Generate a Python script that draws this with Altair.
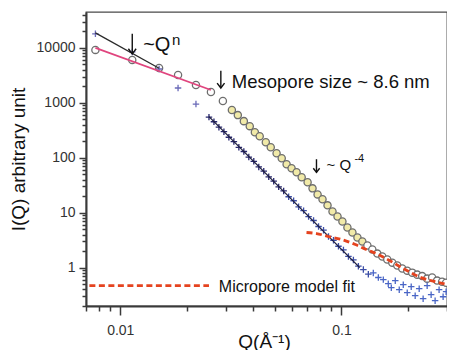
import altair as alt
import pandas as pd

# ---- circle series (open / yellow circles) ----
circ_q = [0.00772, 0.01133, 0.01498, 0.01825, 0.02199, 0.0257, 0.0291,
          0.03196, 0.0340, 0.0362, 0.0385, 0.0406, 0.0427, 0.0455, 0.0479, 0.0509,
          0.0537, 0.0565, 0.0595, 0.0627, 0.0661, 0.0703, 0.0740, 0.0780, 0.0821,
          0.0865, 0.0911, 0.0960, 0.1010, 0.1064, 0.1121, 0.1181, 0.1243,
          0.1310, 0.1379, 0.1453, 0.1530, 0.1611, 0.1698, 0.1788, 0.1883, 0.1983,
          0.2089, 0.2200, 0.2317, 0.2440, 0.2570, 0.2706, 0.2851, 0.2972]
circ_i = [9190, 6040, 4310, 3210, 2110, 1571, 1077,
          738, 597, 464, 376, 292, 247, 192, 155, 121,
          98, 76, 64.3, 54.3, 44.0, 35.7, 27.7, 21.5, 17.5,
          13.6, 10.5, 8.54, 6.92, 5.38, 4.36, 3.53, 2.98,
          2.52, 2.13, 1.80, 1.59, 1.40, 1.23, 1.09, 0.96, 0.88,
          0.81, 0.745, 0.70, 0.63, 0.66, 0.58, 0.555, 0.53]
circ_grp = ["open"] * 7 + ["yellow"] * 26 + ["open"] * 17

# ---- cross series ----
cross_q = [0.00772, 0.01133, 0.01498, 0.01825, 0.02199,
           0.02518, 0.02652, 0.02793, 0.02942, 0.03098, 0.03263, 0.03437, 0.03620,
           0.03812, 0.04015, 0.04229, 0.04454, 0.04691, 0.04940, 0.05203, 0.05480,
           0.05772, 0.06079, 0.06402, 0.06743, 0.07102, 0.07480, 0.07878, 0.08297,
           0.08738, 0.09203, 0.09693, 0.10209, 0.10752, 0.11324, 0.11926, 0.12561,
           0.13229,
           0.1393, 0.1468, 0.1546, 0.1628, 0.1680, 0.1751, 0.1825, 0.1903, 0.1983,
           0.2067, 0.2154, 0.2246, 0.2340, 0.2440, 0.2543, 0.2651, 0.2763, 0.2881,
           0.2972]
cross_i = [18000, 8450, 4130, 1860, 949,
           549, 452, 360, 298, 236, 197, 155, 130,
           103, 86, 68, 57, 45, 37.5, 29.5, 24.9,
           19.5, 16.5, 12.8, 10.9, 8.5, 7.2, 5.6, 4.8,
           3.7, 3.15, 2.45, 2.1, 1.6, 1.38, 1.06, 0.92,
           0.76,
           0.80, 0.66, 0.604, 0.510, 0.431, 0.579, 0.396, 0.489, 0.350,
           0.450, 0.308, 0.413, 0.272, 0.469, 0.321, 0.250, 0.396, 0.295,
           0.364]
cross_grp = ["low"] * 5 + ["dense"] * 16 + ["mid"] * 17 + ["high"] * 19

# ---- fitted lines ----
qn_q = [0.00772, 0.01498]
qn_i = [18800, 4260]
pink_q = [0.00772, 0.0257]
pink_i = [10000, 1710]
q4_q = [0.02518, 0.1210]
q4_i = [560, 1.0]
micro_q = [0.0695, 0.0771, 0.0874, 0.1000, 0.1156, 0.1295, 0.147, 0.168, 0.194, 0.229, 0.2651, 0.303]
micro_i = [4.36, 4.17, 3.68, 3.25, 2.63, 2.13, 1.73, 1.29, 0.92, 0.657, 0.555, 0.489]
legend_q = [0.00725, 0.02518]
legend_i = [0.47, 0.47]

# ---- annotations: arrows (stem top, tip) and texts ----
arrow_q = [0.01133, 0.02849, 0.0771]
arrow_top = [18000, 3840, 94]
arrow_tip = [7800, 1860, 54.3]
arrow_head = [60, 55, 40]
note_text = ["~Q", "n", "Mesopore size  ~ 8.6 nm", "~ Q", "-4", "Micropore model fit"]
note_q = [0.01269, 0.01715, 0.03194, 0.0856, 0.1144, 0.0279]
note_i = [8820, 11350, 1860, 59.1, 82.8, 0.364]
note_size = [20, 15, 18.5, 15, 11, 16]

x_ticks = [0.007, 0.008, 0.009, 0.01, 0.02, 0.03, 0.04, 0.05, 0.06, 0.07, 0.08, 0.09, 0.1, 0.2, 0.3]
y_ticks = [0.2, 0.3, 0.4, 0.5, 0.6, 0.7, 0.8, 0.9, 1, 2, 3, 4, 5, 6, 7, 8, 9,
           10, 20, 30, 40, 50, 60, 70, 80, 90, 100, 200, 300, 400, 500, 600, 700, 800, 900,
           1000, 2000, 3000, 4000, 5000, 6000, 7000, 8000, 9000,
           10000, 20000, 30000, 40000]

FONT = "Liberation Sans"
circ_fill = {"open": "#ffffff", "yellow": "#f1eaa8"}
cross_col = {"low": "#6a6ab8", "dense": "#26266e", "mid": "#3b4da6", "high": "#4a66c6"}

MAJOR = "abs(log(datum.value)/LN10 - round(log(datum.value)/LN10)) < 0.001"

xscale = alt.Scale(type="log", domain=[0.007, 0.3], nice=False)
yscale = alt.Scale(type="log", domain=[0.2, 45000], nice=False)

xaxis = alt.Axis(values=x_ticks, labelExpr=f"{MAJOR} ? format(datum.value, '.2~f') : ''",
                 tickSize={"condition": {"test": MAJOR, "value": 9}, "value": 5},
                 grid=False, title="Q(Å⁻¹)", titleFont=FONT, titleFontSize=19,
                 titleFontWeight="normal", titleColor="#111",
                 titleX=178, titleY=41, titleBaseline="alphabetic",
                 labelFont=FONT, labelFontSize=14, labelColor="#333", labelPadding=8,
                 domainColor="#3a3a3a", domainWidth=2, tickColor="#3a3a3a", tickWidth=1.5,
                 labelFlush=False, labelOverlap=False)
yaxis = alt.Axis(values=y_ticks, labelExpr=f"{MAJOR} ? format(datum.value, 'd') : ''",
                 tickSize={"condition": {"test": MAJOR, "value": 7}, "value": 4},
                 grid=False, title="I(Q) arbitrary unit", titleFont=FONT, titleFontSize=19,
                 titleFontWeight="normal", titleColor="#111",
                 titleX=-62, titleY=147, titleBaseline="alphabetic",
                 labelFont=FONT, labelFontSize=14, labelColor="#333", labelPadding=4,
                 domainColor="#3a3a3a", domainWidth=2, tickColor="#3a3a3a", tickWidth=1.5,
                 labelFlush=False, labelOverlap=False)

X = alt.X("q:Q", scale=xscale, axis=xaxis)
Y = alt.Y("i:Q", scale=yscale, axis=yaxis)
Xn = alt.X("q:Q", scale=xscale)
Yn = alt.Y("i:Q", scale=yscale)

circ_df = pd.DataFrame({"q": circ_q, "i": circ_i, "f": [circ_fill[g] for g in circ_grp]})
cross_df = pd.DataFrame({"q": cross_q, "i": cross_i, "c": [cross_col[g] for g in cross_grp]})


def line_df(qs, is_):
    return pd.DataFrame({"q": qs, "i": is_})


circles = alt.Chart(circ_df).mark_circle(size=52, stroke="#6e6e6e", strokeWidth=1.3, opacity=1).encode(
    x=X, y=Y, color=alt.Color("f:N", scale=None))
crosses = alt.Chart(cross_df).mark_point(shape="M-1,0L1,0M0,-1L0,1", filled=False, size=42,
                                         strokeWidth=1.3, opacity=1).encode(
    x=Xn, y=Yn, color=alt.Color("c:N", scale=None))
qn_line = alt.Chart(line_df(qn_q, qn_i)).mark_line(color="#2a2a2a", strokeWidth=1.3).encode(x=Xn, y=Yn)
pink_line = alt.Chart(line_df(pink_q, pink_i)).mark_line(color="#e0457e", strokeWidth=1.8).encode(x=Xn, y=Yn)
q4_line = alt.Chart(line_df(q4_q, q4_i)).mark_line(color="#1c1c3c", strokeWidth=1.3).encode(x=Xn, y=Yn)
micro_line = alt.Chart(line_df(micro_q, micro_i)).mark_line(
    color="#e5431f", strokeWidth=2.8, strokeDash=[6, 3.5], interpolate="monotone").encode(x=Xn, y=Yn)
legend_line = alt.Chart(line_df(legend_q, legend_i)).mark_line(
    color="#e5431f", strokeWidth=2.8, strokeDash=[6, 3.5]).encode(x=Xn, y=Yn)

arrow_df = pd.DataFrame({"q": arrow_q, "top": arrow_top, "tip": arrow_tip, "h": arrow_head})
arrow_stems = alt.Chart(arrow_df).mark_rule(color="#111", strokeWidth=1.4).encode(
    x=alt.X("q:Q", scale=xscale), y=alt.Y("top:Q", scale=yscale), y2="tip:Q")
arrow_heads = alt.Chart(arrow_df).mark_point(shape="M-1,-1.3L0,0L1,-1.3", filled=False, strokeWidth=1.4,
                                             color="#111", opacity=1).encode(
    x=alt.X("q:Q", scale=xscale), y=alt.Y("tip:Q", scale=yscale), size=alt.Size("h:Q", scale=None))
notes = alt.Chart(pd.DataFrame({"q": note_q, "i": note_i, "s": note_size, "t": note_text})).mark_text(
    font=FONT, align="left", baseline="alphabetic", color="#111").encode(
    x=Xn, y=Yn, text="t:N", size=alt.Size("s:Q", scale=None))

chart = alt.layer(circles, crosses, qn_line, pink_line, q4_line, micro_line, legend_line,
                  arrow_stems, arrow_heads, notes).properties(
    width=361, height=294,
    autosize=alt.AutoSizeParams(type="none"),
    padding={"left": 78, "top": 4, "right": 0, "bottom": 44},
    background="white",
).configure_view(stroke="#4a4a4a", strokeWidth=1.3)

chart.save("out.html", embed_options={"renderer": "svg", "actions": False})
